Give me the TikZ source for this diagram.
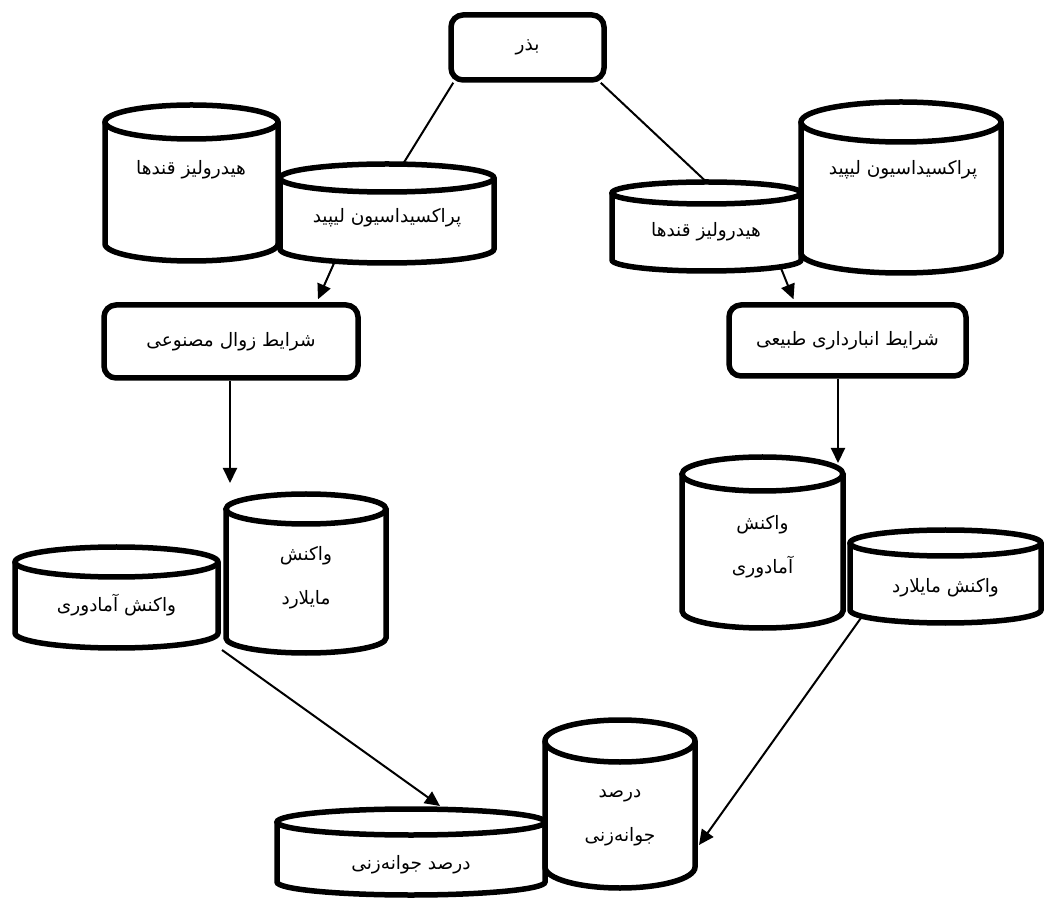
\documentclass[tikz,border=0pt]{standalone}
\usepackage{fontspec}
\newfontfamily\fa[Script=Arabic]{DejaVu Sans}
\TeXXeTstate=1
\usetikzlibrary{arrows.meta,calc,fit}
\tikzset{
  cylline/.style={line width=5.5pt, draw=black, fill=white},
  anchorbox/.style={inner sep=0pt, outer sep=0pt},
  boxstyle/.style={draw, line width=5.5pt, rounded corners=12pt, fill=white, inner sep=0pt, font=\fa\fontsize{18.5}{22}\selectfont},
  lbl/.style={font=\fa\fontsize{18.5}{44}\selectfont, align=center, inner sep=0pt},
  link/.style={line width=2pt},
  arr/.style={line width=2pt, -{Triangle[length=15pt,width=14pt]}},
}
% name, xl, yb, xr, yt, ry
\newcommand{\mycyl}[6]{%
  \node[anchorbox, fit={(#2,#3) (#4,#5)}] (#1) {};
  \draw[cylline] (#2,{#5-#6}) -- (#2,{#3+#6}) arc[start angle=180, end angle=360, x radius={(#4-#2)/2}, y radius=#6] -- (#4,{#5-#6});
  \draw[cylline] ({(#2+#4)/2},{#5-#6}) ellipse[x radius={(#4-#2)/2}, y radius=#6];
}
\begin{document}
\begin{tikzpicture}[x=1pt,y=1pt]
\useasboundingbox (0,0) rectangle (1046,900);
\fill[white] (0,0) rectangle (1046,900);

% top seed box
\node[boxstyle, minimum width=153pt, minimum height=65pt] (seed) at (527.5,852.5) {\beginR بذر\endR};

% upper left pair
\mycyl{hydL}{105}{639}{278}{795}{17}
\mycyl{perL}{280}{637}{494}{736}{14}
\node[lbl] (hydLt) at (191,730) {\beginR هیدرولیز قندها\endR};
\node[lbl] (perLt) at (387,682) {\beginR پراکسیداسیون لیپید\endR};

% upper right pair
\mycyl{hydR}{612}{629}{801}{718}{11}
\mycyl{perR}{801}{627}{1001}{798}{20}
\node[lbl] (hydRt) at (706,668) {\beginR هیدرولیز قندها\endR};
\node[lbl] (perRt) at (903,730) {\beginR پراکسیداسیون لیپید\endR};

% condition boxes
\node[boxstyle, minimum width=254pt, minimum height=73pt] (condL) at (231,558.5) {\beginR شرایط زوال مصنوعی\endR};
\node[boxstyle, minimum width=237pt, minimum height=71pt] (condR) at (847.5,559.5) {\beginR شرایط انبارداری طبیعی\endR};

% lower left pair
\mycyl{maiL}{226}{247}{386}{406}{15}
\mycyl{amaL}{15}{252}{218}{353}{15}
\node[lbl] (maiLt) at (306,322.5) {\beginR واکنش\endR\\\beginR مایلارد\endR};
\node[lbl] (amaLt) at (116.5,295) {\beginR واکنش آمادوری\endR};

% lower right pair
\mycyl{amaR}{682}{272}{843}{443}{17}
\mycyl{maiR}{850}{277}{1041}{370}{13}
\node[lbl] (amaRt) at (762.5,353.5) {\beginR واکنش\endR\\\beginR آمادوری\endR};
\node[lbl] (maiRt) at (945.5,312) {\beginR واکنش مایلارد\endR};

% bottom pair
\mycyl{gerS}{277}{5}{545}{91}{13}
\mycyl{gerT}{545}{12}{695}{180}{21}
\node[lbl] (gerSt) at (411,35) {\beginR درصد جوانه‌زنی\endR};
\node[lbl] (gerTt) at (620,82.5) {\beginR درصد\endR\\\beginR جوانه‌زنی\endR};

% connectors
\draw[link] ([xshift=5pt]seed.south west) -- ([xshift=16pt]perL.north);
\draw[link] ([xshift=-6pt]seed.south east) -- (hydR.north);
\draw[arr] ([xshift=-52pt,yshift=2pt]perL.south) -- ([xshift=87pt,yshift=3pt]condL.north);
\draw[arr] ([xshift=74pt,yshift=4pt]hydR.south) -- ([xshift=-54pt,yshift=3pt]condR.north);
\draw[arr] ([xshift=-1pt]condL.south) -- ([xshift=4pt,yshift=11pt]maiL.north west);
\draw[arr] ([xshift=-9.5pt]condR.south) -- ([xshift=-5pt,yshift=-6pt]amaR.north east);
\draw[arr] ([xshift=4pt,yshift=-2pt]amaL.south east) -- ([xshift=29pt,yshift=3pt]gerS.north);
\draw[arr] ([xshift=-83.5pt,yshift=6.5pt]maiR.south) -- ([xshift=4pt,yshift=-41pt]gerT.east);
\end{tikzpicture}
\end{document}
